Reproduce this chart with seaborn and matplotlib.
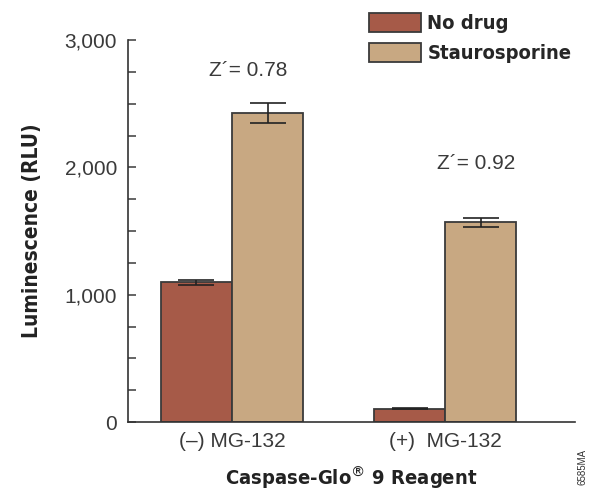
import numpy as np
import pandas as pd
import seaborn as sns
import matplotlib.pyplot as plt
from matplotlib.ticker import MultipleLocator, FuncFormatter

# data
groups = ["(–) MG-132", "(+)  MG-132"]
treatments = ["No drug", "Staurosporine"]
no_drug = [1097, 105]
no_drug_err = [20, 4]
stauro = [2427, 1571]
stauro_err = [78, 35]
z_labels = ["Z´= 0.78", "Z´= 0.92"]
z_y = [2765, 2030]

colors = {"No drug": "#A65A48", "Staurosporine": "#C8A882"}

sns.set_theme(style="white")
plt.rcParams["font.family"] = ["Liberation Sans", "DejaVu Sans"]

df = pd.DataFrame({
    "group": groups * 2,
    "treatment": [treatments[0]] * 2 + [treatments[1]] * 2,
    "value": no_drug + stauro,
    "err": no_drug_err + stauro_err,
})

fig = plt.figure(figsize=(5.96, 4.96), dpi=100)
ax = fig.add_axes([0.2148, 0.149, 0.75, 0.770])

sns.barplot(data=df, x="group", y="value", hue="treatment", order=groups,
            hue_order=treatments, palette=colors, width=0.667, errorbar=None,
            edgecolor="#3a3a3a", linewidth=1.3, saturation=1, ax=ax)

# error bars at bar centres
for cont, t in zip(ax.containers, treatments):
    sub = df[df["treatment"] == t].set_index("group").loc[groups]
    xs = [p.get_x() + p.get_width() / 2 for p in cont.patches]
    ax.errorbar(xs, sub["value"], yerr=sub["err"], fmt="none", ecolor="#222222",
                elinewidth=1.2, capsize=13, capthick=1.2)

z_dx = [0.075, 0.146]
for i, (lab, yy) in enumerate(zip(z_labels, z_y)):
    ax.text(i + z_dx[i], yy, lab, ha="center", va="center", fontsize=15, color="#3a3a3a")

ax.set_ylim(0, 3000)
ax.set_xlim(-0.488, 1.61)
ax.yaxis.set_major_locator(MultipleLocator(1000))
ax.yaxis.set_minor_locator(MultipleLocator(250))
ax.yaxis.set_major_formatter(FuncFormatter(lambda v, p: f"{int(v):,}"))
ax.tick_params(axis="y", which="both", direction="in", length=6, width=1.1,
               colors="#3a3a3a", labelsize=15, left=True, pad=8)
ax.tick_params(axis="x", length=0, labelsize=15, colors="#3a3a3a", pad=7)

for s in ["top", "right"]:
    ax.spines[s].set_visible(False)
for s in ["left", "bottom"]:
    ax.spines[s].set_color("#333333")
    ax.spines[s].set_linewidth(1.2)

cond = ["Liberation Sans Narrow", "DejaVu Sans Condensed", "DejaVu Sans"]
ax.set_ylabel("Luminescence (RLU)", fontsize=15, fontweight="bold", fontstretch="condensed",
              family=cond, color="#222222", labelpad=16)
ax.set_xlabel("Caspase-Glo$^{®}$ 9 Reagent", fontsize=14.5, fontweight="bold", fontstretch="condensed",
              family=cond, color="#222222", labelpad=10)

leg = ax.legend(loc="upper left", bbox_to_anchor=(369 / 596, 1 - 13 / 496),
                bbox_transform=fig.transFigure, frameon=False,
                handlelength=2.6, handleheight=1.05, handletextpad=0.3,
                labelspacing=0.5, borderaxespad=0, borderpad=0,
                prop={"family": cond, "weight": "bold", "size": 14.5, "stretch": "condensed"})
for h in leg.legend_handles:
    h.set_edgecolor("#3a3a3a")

fig.text(0.978, 0.058, "6585MA", rotation=90, fontsize=7, color="#333333",
         ha="center", va="center")

fig.savefig("out.png", dpi=100)
